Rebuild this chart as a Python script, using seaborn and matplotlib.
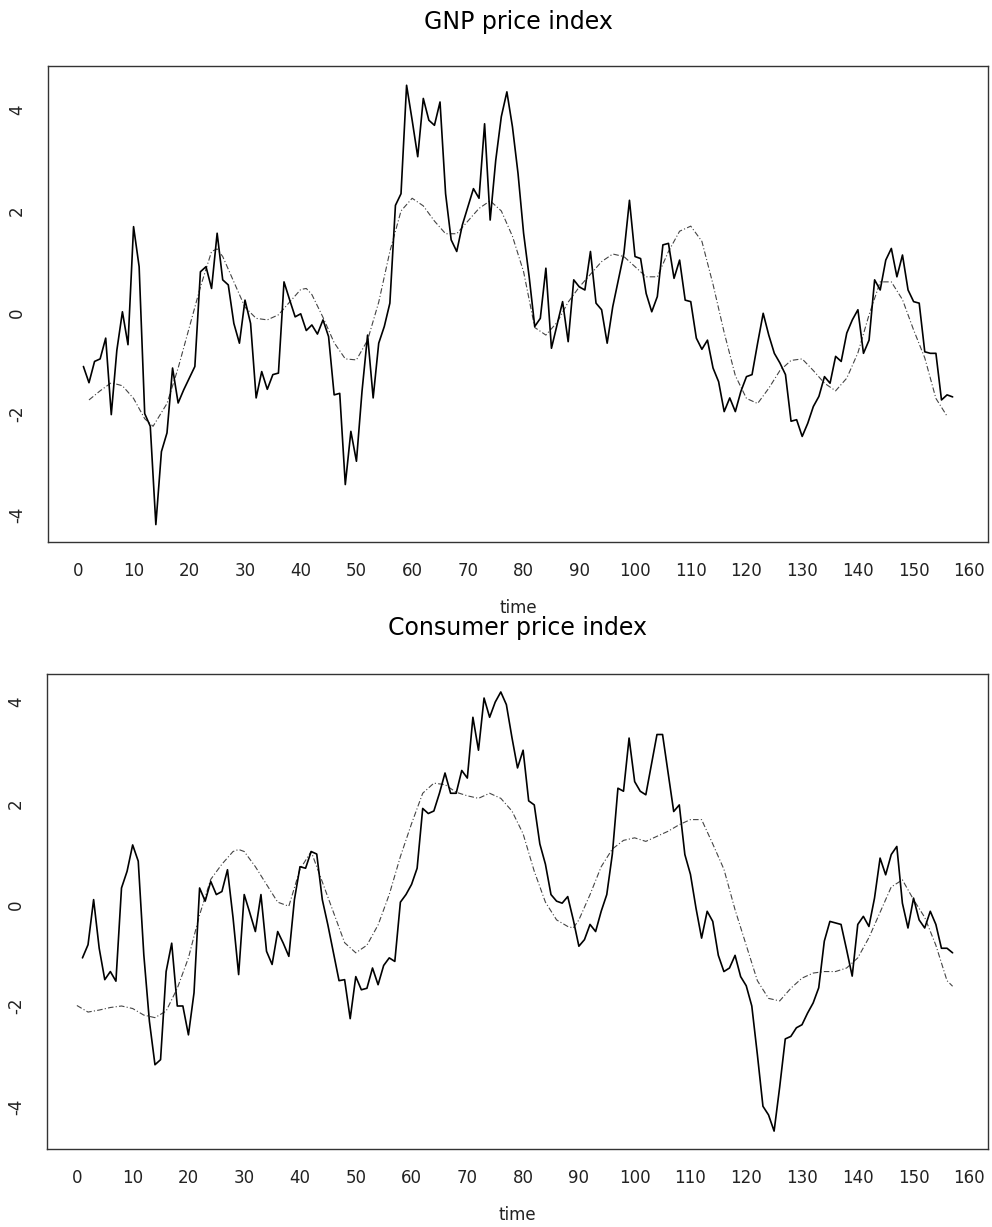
import numpy as np
import pandas as pd
from matplotlib import pyplot as plt
import seaborn as sns

# values, t = 1..157
time = list(range(1, 158))

gnp = [-1.07, -1.39, -0.97, -0.92, -0.51, -2.02, -0.75, 0.01, -0.64, 1.69,
       0.9, -2.0, -2.25, -4.19, -2.75, -2.38, -1.1, -1.79, -1.53, -1.3,
       -1.07, 0.8, 0.9, 0.47, 1.56, 0.64, 0.54, -0.22, -0.61, 0.24,
       -0.22, -1.69, -1.17, -1.52, -1.23, -1.2, 0.6, 0.25, -0.09, -0.03,
       -0.36, -0.25, -0.43, -0.15, -0.48, -1.63, -1.6, -3.4, -2.35, -2.94,
       -1.56, -0.45, -1.69, -0.61, -0.28, 0.18, 2.11, 2.34, 4.48, 3.79,
       3.07, 4.22, 3.79, 3.69, 4.15, 2.34, 1.43, 1.2, 1.72, 2.08,
       2.44, 2.25, 3.72, 1.82, 3.0, 3.86, 4.35, 3.66, 2.74, 1.56,
       0.7, -0.28, -0.12, 0.87, -0.71, -0.25, 0.21, -0.58, 0.64, 0.5,
       0.44, 1.2, 0.18, 0.05, -0.61, 0.11, 0.64, 1.16, 2.21, 1.1,
       1.06, 0.37, 0.01, 0.31, 1.33, 1.36, 0.67, 1.03, 0.24, 0.21,
       -0.51, -0.73, -0.55, -1.1, -1.37, -1.96, -1.69, -1.96, -1.56, -1.27,
       -1.23, -0.61, -0.02, -0.45, -0.81, -1.0, -1.23, -2.15, -2.12, -2.45,
       -2.19, -1.86, -1.66, -1.27, -1.4, -0.87, -0.97, -0.41, -0.15, 0.05,
       -0.81, -0.55, 0.64, 0.44, 1.03, 1.26, 0.7, 1.13, 0.44, 0.21,
       0.18, -0.78, -0.81, -0.81, -1.73, -1.63, -1.67]

gnp_smooth_t = [2, 4, 6, 8, 10, 12, 13.5, 16, 18, 20, 22, 24, 25, 26, 28, 30,
                32, 34, 36, 38, 40, 41, 42, 44, 46, 48, 50, 52, 54, 56, 58, 60,
                62, 64, 66, 68, 70, 72, 74, 76, 78, 80, 82, 84, 86, 88, 90, 92,
                94, 96, 98, 100, 102, 104, 106, 108, 110, 112, 114, 116, 118, 120,
                122, 124, 126, 128, 130, 132, 134, 136, 138, 140, 142, 144, 146,
                148, 150, 152, 154, 156]
gnp_smooth = [-1.73, -1.55, -1.39, -1.45, -1.7, -2.1, -2.25, -1.8, -1.1, -0.3,
              0.5, 1.2, 1.25, 1.1, 0.6, 0.1, -0.12, -0.15, -0.05, 0.2,
              0.45, 0.47, 0.35, -0.1, -0.6, -0.92, -0.94, -0.55, 0.2, 1.2,
              2.0, 2.25, 2.1, 1.8, 1.55, 1.55, 1.8, 2.05, 2.2, 2.0,
              1.5, 0.8, -0.3, -0.45, -0.2, 0.2, 0.5, 0.75, 1.0, 1.15,
              1.1, 0.9, 0.7, 0.7, 1.2, 1.6, 1.7, 1.4, 0.55, -0.4,
              -1.25, -1.7, -1.8, -1.5, -1.15, -0.95, -0.92, -1.15, -1.4, -1.55,
              -1.3, -0.8, -0.05, 0.6, 0.6, 0.25, -0.35, -0.9, -1.7, -2.05]

cpi = [-1.05, -0.79, 0.1, -0.86, -1.48, -1.32, -1.51, 0.33, 0.66, 1.18,
       0.86, -0.99, -2.3, -3.16, -3.06, -1.32, -0.76, -2.0, -2.0, -2.57,
       -1.74, 0.33, 0.07, 0.46, 0.2, 0.26, 0.69, -0.26, -1.38, 0.2,
       -0.16, -0.53, 0.2, -0.92, -1.18, -0.53, -0.76, -1.02, 0.1, 0.75,
       0.72, 1.05, 1.0, 0.1, -0.4, -0.95, -1.5, -1.48, -2.25, -1.42,
       -1.68, -1.65, -1.25, -1.58, -1.2, -1.05, -1.12, 0.05, 0.2, 0.4,
       0.72, 1.9, 1.8, 1.85, 2.2, 2.6, 2.2, 2.2, 2.65, 2.5,
       3.7, 3.05, 4.08, 3.7, 4.0, 4.2, 3.95, 3.3, 2.7, 3.05,
       2.05, 1.97, 1.2, 0.8, 0.2, 0.07, 0.03, 0.16, -0.3, -0.82,
       -0.69, -0.39, -0.53, -0.13, 0.2, 1.0, 2.3, 2.24, 3.29, 2.43,
       2.24, 2.17, 2.76, 3.36, 3.36, 2.6, 1.84, 1.97, 0.99, 0.6,
       -0.07, -0.66, -0.13, -0.33, -1.0, -1.32, -1.25, -1.0, -1.42, -1.6,
       -2.0, -2.96, -3.98, -4.15, -4.47, -3.6, -2.65, -2.6, -2.43, -2.37,
       -2.14, -1.94, -1.64, -0.72, -0.33, -0.36, -0.39, -0.89, -1.41, -0.39,
       -0.23, -0.43, 0.13, 0.92, 0.59, 0.99, 1.15, 0.03, -0.46, 0.13,
       -0.3, -0.46, -0.13, -0.39, -0.86, -0.86, -0.95]

cpi_smooth_t = [0, 2, 4, 6, 8, 10, 12, 14, 16, 18, 20, 22, 24, 26, 28, 29, 30,
                32, 34, 36, 38, 40, 42, 44, 46, 48, 50, 52, 54, 56, 58, 60, 62,
                64, 66, 68, 70, 72, 74, 76, 78, 80, 82, 84, 86, 88, 89, 90, 92,
                94, 96, 98, 100, 102, 104, 106, 108, 110, 112, 114, 116, 118, 120,
                122, 124, 126, 128, 130, 132, 134, 136, 138, 140, 142, 144, 146,
                148, 150, 152, 154, 156, 157]
cpi_smooth = [-1.99, -2.12, -2.08, -2.03, -2.0, -2.05, -2.18, -2.23, -2.1, -1.65,
              -1.05, -0.2, 0.5, 0.8, 1.05, 1.09, 1.05, 0.75, 0.4, 0.05,
              -0.03, 0.7, 1.05, 0.45, -0.15, -0.75, -0.95, -0.8, -0.4, 0.2,
              0.95, 1.6, 2.2, 2.4, 2.37, 2.22, 2.15, 2.1, 2.2, 2.1,
              1.85, 1.4, 0.66, 0.05, -0.3, -0.43, -0.46, -0.3, 0.2, 0.75,
              1.1, 1.27, 1.32, 1.25, 1.35, 1.45, 1.58, 1.68, 1.68, 1.2,
              0.7, -0.1, -0.8, -1.5, -1.85, -1.9, -1.65, -1.45, -1.35, -1.32,
              -1.32, -1.25, -1.05, -0.65, -0.15, 0.35, 0.49, 0.1, -0.25, -0.8,
              -1.5, -1.61]

xticks = list(range(0, 161, 10))
yticks = [-4, -2, 0, 2, 4]

sns.set_style("white")
plt.rcParams['font.family'] = ['DejaVu Sans']

fig = plt.figure(figsize=(9.92, 12.27), dpi=100)
ax1 = fig.add_axes([0.0487, 0.558, 0.9470, 0.3882])
ax2 = fig.add_axes([0.0477, 0.0633, 0.9480, 0.3872])

panels = [
    (ax1, 'GNP price index', gnp, gnp_smooth_t, gnp_smooth, (-4.54, 4.86), 26.5),
    (ax2, 'Consumer price index', cpi, cpi_smooth_t, cpi_smooth, (-4.83, 4.55), 28.5),
]

for ax, title, vals, st, sv, ylim, tpad in panels:
    df = pd.DataFrame({'time': time, 'value': vals})
    sm = pd.DataFrame({'time': st, 'value': sv})
    sns.lineplot(data=sm, x='time', y='value', ax=ax, color='#444444',
                 linewidth=0.8, linestyle=(0, (5, 2, 1, 2)), estimator=None)
    sns.lineplot(data=df, x='time', y='value', ax=ax, color='black',
                 linewidth=1.2, estimator=None)
    ax.set_xlim(-5.3, 163.3)
    ax.set_ylim(*ylim)
    ax.set_xticks(xticks)
    ax.set_yticks(yticks)
    ax.set_xticklabels([str(v) for v in xticks])
    ax.set_yticklabels([str(v) for v in yticks])
    ax.tick_params(axis='x', direction='out', length=6, width=0.9,
                   color='#333333', labelsize=12, pad=8, labelcolor='#222222')
    ax.tick_params(axis='y', direction='out', length=8, width=0.9,
                   color='#333333', labelsize=12, pad=8, labelrotation=90,
                   labelcolor='#222222')
    for lab in ax.get_yticklabels():
        lab.set_verticalalignment('center')
    ax.set_xlabel('time', fontsize=12, labelpad=14, color='#222222')
    ax.set_ylabel('')
    ax.set_title(title, fontsize=17, pad=tpad, color='black')
    for sp in ax.spines.values():
        sp.set_color('#333333')
        sp.set_linewidth(1.0)

fig.savefig('out.png', dpi=100)
